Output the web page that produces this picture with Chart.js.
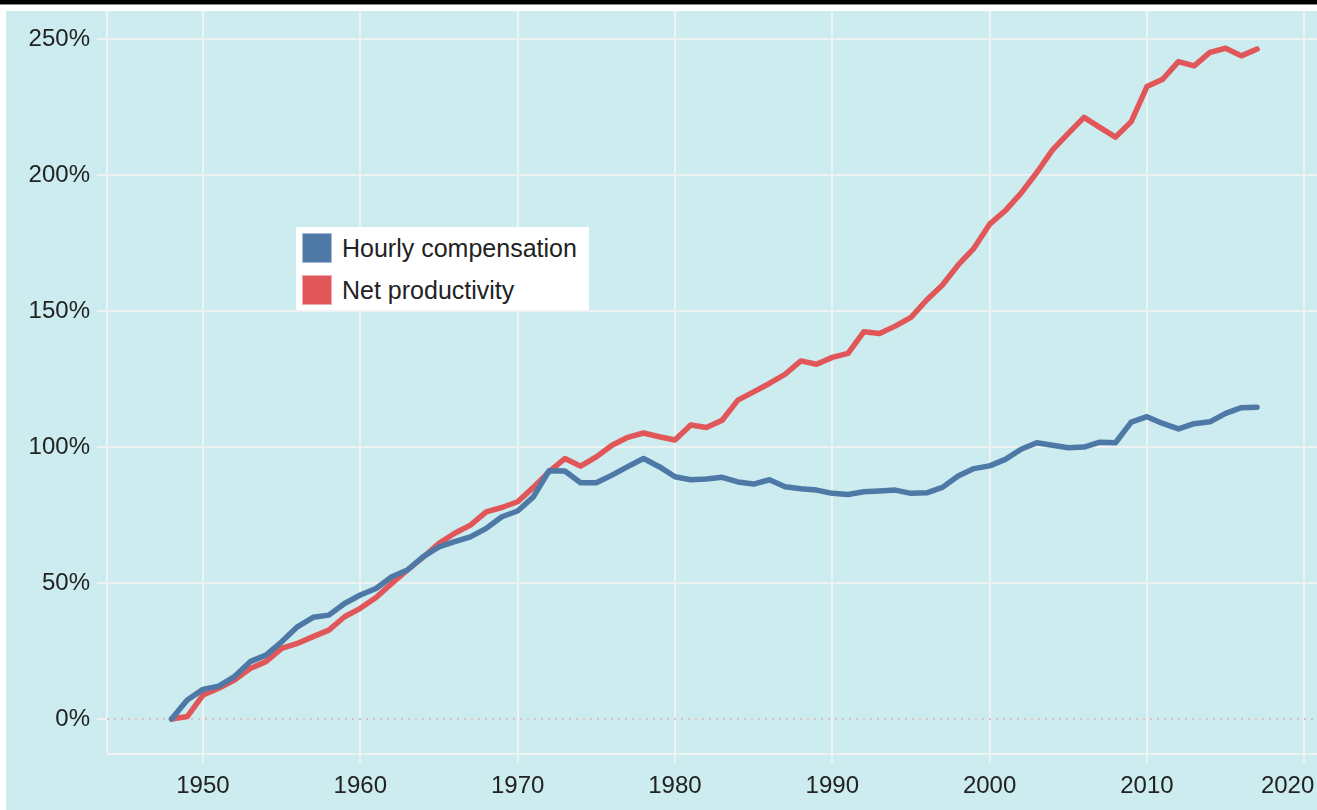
<!DOCTYPE html>
<html lang="en">
<head>
    <meta charset="UTF-8">
    <title>Productivity vs hourly compensation</title>
    <script src="https://cdn.jsdelivr.net/npm/chart.js"></script>
    <style>
        body {
            margin: 0;
            width: 1317px;
            height: 810px;
            overflow: hidden;
            background: #fff;
            font-family: 'Liberation Sans', Arial, sans-serif;
        }
        #topbar {
            position: absolute;
            left: 0;
            top: 0;
            width: 1317px;
            height: 4px;
            background: #000;
            border-bottom: 1px solid #8a8a8a;
        }
        #panel {
            position: absolute;
            left: 6px;
            top: 11px;
            width: 1360px;
            height: 799px;
            background: #ccecef;
        }
        #legend {
            position: absolute;
            left: 296px;
            top: 227px;
            width: 293px;
            height: 83px;
            box-sizing: border-box;
            padding: 6px 0 0 6px;
            background: #fff;
        }
        .legend-item {
            display: flex;
            align-items: center;
            height: 30px;
            margin-bottom: 12px;
            font-size: 25px;
            color: #222;
        }
        .legend-swatch {
            width: 30px;
            height: 30px;
            box-sizing: border-box;
            margin-right: 10px;
        }
    </style>
</head>
<body>
    <div id="topbar"></div>
    <div id="panel">
        <canvas id="chart"></canvas>
    </div>
    <div id="legend"></div>

    <script>
        // years 1948 - 2017
        const years = [
            1948, 1949, 1950, 1951, 1952, 1953, 1954, 1955, 1956, 1957,
            1958, 1959, 1960, 1961, 1962, 1963, 1964, 1965, 1966, 1967,
            1968, 1969, 1970, 1971, 1972, 1973, 1974, 1975, 1976, 1977,
            1978, 1979, 1980, 1981, 1982, 1983, 1984, 1985, 1986, 1987,
            1988, 1989, 1990, 1991, 1992, 1993, 1994, 1995, 1996, 1997,
            1998, 1999, 2000, 2001, 2002, 2003, 2004, 2005, 2006, 2007,
            2008, 2009, 2010, 2011, 2012, 2013, 2014, 2015, 2016, 2017
        ];

        // cumulative % change since 1948
        const hourlyCompensation = [
            0, 7.0, 10.9, 12.1, 15.6, 21.1, 23.5, 28.4, 33.9, 37.4,
            38.2, 42.5, 45.6, 48.0, 52.3, 54.8, 59.7, 63.3, 65.2, 67.0,
            70.1, 74.4, 76.5, 81.7, 91.3, 91.2, 86.9, 86.9, 89.7, 92.8,
            95.8, 92.8, 89.1, 88.0, 88.3, 88.9, 87.2, 86.4, 88.0, 85.4,
            84.7, 84.2, 83.0, 82.6, 83.6, 83.9, 84.2, 83.0, 83.2, 85.2,
            89.4, 92.1, 93.1, 95.5, 99.2, 101.6, 100.7, 99.8, 100.0, 101.8,
            101.6, 109.2, 111.2, 108.7, 106.7, 108.6, 109.3, 112.4, 114.5, 114.7
        ];

        const netProductivity = [
            0, 0.9, 8.8, 11.3, 14.3, 18.6, 21.1, 26.0, 27.8, 30.3,
            32.7, 37.6, 40.7, 44.7, 49.9, 54.8, 59.5, 64.6, 68.3, 71.3,
            76.2, 77.8, 79.9, 85.2, 91.0, 95.8, 93.0, 96.4, 100.7, 103.6,
            105.2, 103.8, 102.6, 108.1, 107.2, 109.9, 117.3, 120.3, 123.4, 126.8,
            131.7, 130.5, 133.0, 134.5, 142.4, 141.8, 144.5, 147.7, 154.1, 159.6,
            167.0, 173.1, 182.0, 187.0, 193.4, 201.0, 209.3, 215.4, 221.3, 217.6,
            214.0, 219.7, 232.6, 235.3, 241.8, 240.2, 245.2, 246.7, 243.9, 246.4
        ];

        const xTicks = [1950, 1960, 1970, 1980, 1990, 2000, 2010, 2020];
        const yTicks = [0, 50, 100, 150, 200, 250];

        // axis ranges
        const X_MIN = 1943.9;
        const X_MAX = 2022.27;
        const Y_MIN = -12.87;
        const Y_MAX = 260.4;

        const BLUE = '#4e79a7';
        const RED = '#e15759';
        const GRID = '#eef2f2';
        const FONT = { family: "'Liberation Sans', Arial, sans-serif", size: 24 };

        const toPoints = (vals) => vals.map((v, i) => ({ x: years[i], y: v }));

        const chart = new Chart(document.getElementById('chart'), {
            type: 'line',
            data: {
                datasets: [
                    {
                        label: 'Hourly compensation',
                        data: toPoints(hourlyCompensation),
                        borderColor: BLUE,
                        backgroundColor: BLUE,
                        borderWidth: 5.5,
                        pointRadius: 0,
                        tension: 0,
                        borderJoinStyle: 'round',
                        borderCapStyle: 'round'
                    },
                    {
                        label: 'Net productivity',
                        data: toPoints(netProductivity),
                        borderColor: RED,
                        backgroundColor: RED,
                        borderWidth: 5.5,
                        pointRadius: 0,
                        tension: 0,
                        borderJoinStyle: 'round',
                        borderCapStyle: 'round'
                    },
                    {
                        // dotted baseline at 0%
                        label: 'zero',
                        data: [{ x: X_MIN, y: 0 }, { x: X_MAX, y: 0 }],
                        borderColor: '#d8bfc3',
                        borderWidth: 2,
                        borderDash: [2, 5],
                        pointRadius: 0
                    }
                ]
            },
            options: {
                responsive: true,
                maintainAspectRatio: false,
                animation: false,
                events: [],
                layout: { padding: { left: 0, right: 26, top: 0, bottom: 0 } },
                plugins: {
                    legend: { display: false },
                    tooltip: { enabled: false }
                },
                scales: {
                    x: {
                        type: 'linear',
                        min: X_MIN,
                        max: X_MAX,
                        afterBuildTicks: (scale) => {
                            scale.ticks = xTicks.map(v => ({ value: v }));
                        },
                        afterFit: (scale) => {
                            scale.height = 56;
                            scale.paddingLeft = 0;
                            scale.paddingRight = 0;
                        },
                        ticks: {
                            color: '#222',
                            font: FONT,
                            padding: 9,
                            maxRotation: 0,
                            autoSkip: false,
                            // last label is pushed left so it stays inside the page edge
                            callback: (v) => v === 2020 ? '2020\u00a0\u00a0\u00a0\u00a0\u00a0' : String(v)
                        },
                        grid: {
                            color: GRID,
                            lineWidth: 2,
                            tickLength: 9,
                            tickColor: GRID,
                            tickWidth: 2
                        },
                        border: { display: true, color: GRID, width: 2 }
                    },
                    y: {
                        type: 'linear',
                        min: Y_MIN,
                        max: Y_MAX,
                        afterBuildTicks: (scale) => {
                            scale.ticks = yTicks.map(v => ({ value: v }));
                        },
                        afterFit: (scale) => {
                            scale.width = 101;
                            scale.paddingTop = 0;
                            scale.paddingBottom = 0;
                        },
                        ticks: {
                            color: '#222',
                            font: FONT,
                            padding: 7,
                            autoSkip: false,
                            callback: (v) => v + '%'
                        },
                        grid: {
                            color: (ctx) => (ctx.tick && ctx.tick.value === 0) ? 'rgba(0,0,0,0)' : GRID,
                            lineWidth: 2,
                            tickLength: 10,
                            tickColor: GRID,
                            tickWidth: 2
                        },
                        border: { display: true, color: GRID, width: 2 }
                    }
                }
            }
        });

        // html legend from the two series
        const legendEl = document.getElementById('legend');
        chart.data.datasets.slice(0, 2).forEach((ds) => {
            const item = document.createElement('div');
            item.className = 'legend-item';
            const sw = document.createElement('span');
            sw.className = 'legend-swatch';
            sw.style.background = ds.borderColor;
            sw.style.border = '1px solid rgba(255,255,255,0.5)';
            const txt = document.createElement('span');
            txt.textContent = ds.label;
            item.appendChild(sw);
            item.appendChild(txt);
            legendEl.appendChild(item);
        });
    </script>
</body>
</html>
